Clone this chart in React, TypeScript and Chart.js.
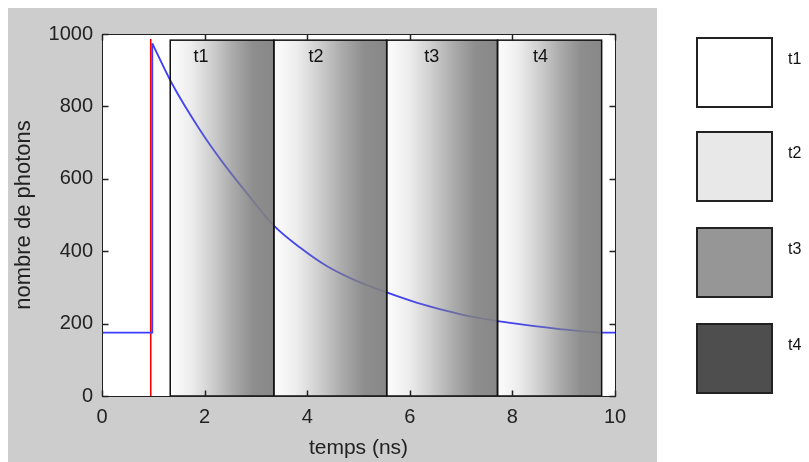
import React, { useEffect, useRef } from 'react';
import { Chart, registerables } from 'chart.js';

Chart.register(...registerables);

// ---- data ----
const preTimes = [0, 0.98, 0.98];
const preCounts = [175, 175, 974];
const decayTimes = [0.98, 1.36, 1.91, 2.36, 2.82, 3.34, 3.86, 4.38, 4.96, 5.55, 6.13, 6.72, 7.2, 7.71, 8.28, 8.93, 9.64, 10];
const decayCounts = [974, 864, 735, 644, 561, 472, 410, 359, 318, 286, 258, 235, 219, 207, 196, 185, 176, 175];
const excitationTimes = [0.95, 0.95];
const excitationCounts = [0, 986];
const windowStarts = [1.33, 3.35, 5.55, 7.71];
const windowEnds = [3.35, 5.55, 7.71, 9.74];
const windowBottom = 0;
const windowTop = 983;
const windowLabels = ['t1', 't2', 't3', 't4'];
const windowLabelTimes = [1.93, 4.17, 6.43, 8.55];
const windowLabelCount = 937;
const legendLabels = ['t1', 't2', 't3', 't4'];
const legendShades = ['#ffffff', '#e8e8e8', '#969696', '#4e4e4e'];
const xTickValues = [0, 2, 4, 6, 8, 10];
const yTickValues = [0, 200, 400, 600, 800, 1000];
const xTitle = 'temps (ns)';
const yTitle = 'nombre de photons';

const FONT = "'Liberation Sans', Arial, sans-serif";

const toXY = (xs: number[], ys: number[]) => xs.map((x, i) => ({ x, y: ys[i] }));

const overlayPlugin = {
  id: 'overlay',
  beforeDraw(chart: any) {
    const { ctx, chartArea } = chart;
    ctx.save();
    ctx.fillStyle = '#ffffff';
    ctx.fillRect(0, 0, chart.width, chart.height);
    ctx.fillStyle = '#cdcdcd';
    ctx.fillRect(8, 8, 649, chart.height - 8);
    ctx.fillStyle = '#ffffff';
    ctx.fillRect(chartArea.left, chartArea.top, chartArea.right - chartArea.left, chartArea.bottom - chartArea.top);
    ctx.restore();
  },
  afterDatasetsDraw(chart: any) {
    const { ctx, chartArea } = chart;
    const xs = chart.scales.x;
    const ys = chart.scales.y;
    ctx.save();
    // gradient windows
    windowStarts.forEach((s, i) => {
      const x0 = xs.getPixelForValue(s);
      const x1 = xs.getPixelForValue(windowEnds[i]);
      const y0 = ys.getPixelForValue(windowTop);
      const y1 = ys.getPixelForValue(windowBottom);
      const g = ctx.createLinearGradient(x0, 0, x1, 0);
      g.addColorStop(0, 'rgba(128,128,128,0.02)');
      g.addColorStop(0.2, 'rgba(128,128,128,0.14)');
      g.addColorStop(0.4, 'rgba(128,128,128,0.38)');
      g.addColorStop(0.6, 'rgba(128,128,128,0.66)');
      g.addColorStop(0.8, 'rgba(128,128,128,0.89)');
      g.addColorStop(1, 'rgba(128,128,128,0.94)');
      ctx.fillStyle = g;
      ctx.fillRect(x0, y0, x1 - x0, y1 - y0);
      ctx.strokeStyle = '#111';
      ctx.lineWidth = 1.5;
      ctx.strokeRect(x0, y0, x1 - x0, y1 - y0);
    });
    // window labels
    ctx.fillStyle = '#111';
    ctx.font = `18px ${FONT}`;
    ctx.textAlign = 'center';
    ctx.textBaseline = 'middle';
    windowLabels.forEach((l, i) => {
      ctx.fillText(l, xs.getPixelForValue(windowLabelTimes[i]), ys.getPixelForValue(windowLabelCount));
    });
    // box + inner ticks
    ctx.strokeStyle = '#222';
    ctx.lineWidth = 1;
    const L = Math.round(chartArea.left) + 0.5;
    const R = Math.round(chartArea.right) + 0.5;
    const T = Math.round(chartArea.top) + 0.5;
    const B = Math.round(chartArea.bottom) + 0.5;
    ctx.strokeRect(L, T, R - L, B - T);
    ctx.lineWidth = 1.5;
    ctx.beginPath();
    const tl = 6;
    xTickValues.forEach((v) => {
      const px = Math.round(xs.getPixelForValue(v)) + 0.5;
      ctx.moveTo(px, B); ctx.lineTo(px, B - tl);
      ctx.moveTo(px, T); ctx.lineTo(px, T + tl);
    });
    yTickValues.forEach((v) => {
      const py = Math.round(ys.getPixelForValue(v)) + 0.5;
      ctx.moveTo(L, py); ctx.lineTo(L + tl, py);
      ctx.moveTo(R, py); ctx.lineTo(R - tl, py);
    });
    ctx.stroke();
    ctx.restore();
  },
  afterDraw(chart: any) {
    const { ctx } = chart;
    ctx.save();
    const lx = 697, lw = 75, lh = 69;
    const tops = [38, 132, 228, 324];
    legendShades.forEach((c, i) => {
      ctx.fillStyle = c;
      ctx.fillRect(lx, tops[i], lw, lh);
      ctx.strokeStyle = '#222';
      ctx.lineWidth = 2;
      ctx.strokeRect(lx, tops[i], lw, lh);
      ctx.fillStyle = '#111';
      ctx.font = `16px ${FONT}`;
      ctx.textAlign = 'left';
      ctx.textBaseline = 'middle';
      ctx.fillText(legendLabels[i], 788, tops[i] + 22);
    });
    ctx.restore();
  },
};

export default function App() {
  const ref = useRef<HTMLCanvasElement | null>(null);
  useEffect(() => {
    if (!ref.current) return;
    const chart = new Chart(ref.current, {
      type: 'line',
      data: {
        datasets: [
          {
            data: toXY(preTimes, preCounts),
            borderColor: '#3c3cff',
            borderWidth: 1.8,
            pointRadius: 0,
            tension: 0,
          },
          {
            data: toXY(decayTimes, decayCounts),
            borderColor: '#3c3cff',
            borderWidth: 1.8,
            pointRadius: 0,
            cubicInterpolationMode: 'monotone',
          },
          {
            data: toXY(excitationTimes, excitationCounts),
            borderColor: '#ff0000',
            borderWidth: 1.6,
            pointRadius: 0,
          },
        ],
      } as any,
      options: {
        animation: false,
        responsive: false,
        devicePixelRatio: 1,
        layout: { padding: { left: 0, top: 34, right: 194, bottom: 0 } },
        plugins: { legend: { display: false }, tooltip: { enabled: false } },
        scales: {
          x: {
            type: 'linear',
            min: 0,
            max: 10,
            afterBuildTicks: (s: any) => { s.ticks = xTickValues.map((v) => ({ value: v })); },
            afterFit: (s: any) => { s.height = 66; },
            grid: { display: false, drawTicks: false },
            border: { display: false },
            ticks: { color: '#222', font: { family: FONT, size: 20 }, padding: 9, maxRotation: 0, callback: (v: any) => String(v) },
            title: { display: true, text: xTitle, color: '#222', font: { family: FONT, size: 21 }, padding: { top: 0, bottom: 1 } },
          },
          y: {
            type: 'linear',
            min: 0,
            max: 1000,
            afterBuildTicks: (s: any) => { s.ticks = yTickValues.map((v) => ({ value: v })); },
            afterFit: (s: any) => { s.width = 102; },
            grid: { display: false, drawTicks: false },
            border: { display: false },
            ticks: { color: '#222', font: { family: FONT, size: 20 }, padding: 9, callback: (v: any) => String(v) },
            title: { display: true, text: yTitle, color: '#222', font: { family: FONT, size: 22 }, padding: { top: 11, bottom: 0 } },
          },
        },
      } as any,
      plugins: [overlayPlugin],
    });
    return () => chart.destroy();
  }, []);
  return (
    <div style={{ position: 'absolute', left: 0, top: 0, width: 809, height: 462 }}>
      <canvas ref={ref} width={809} height={462} style={{ width: 809, height: 462, display: 'block' }} />
    </div>
  );
}
